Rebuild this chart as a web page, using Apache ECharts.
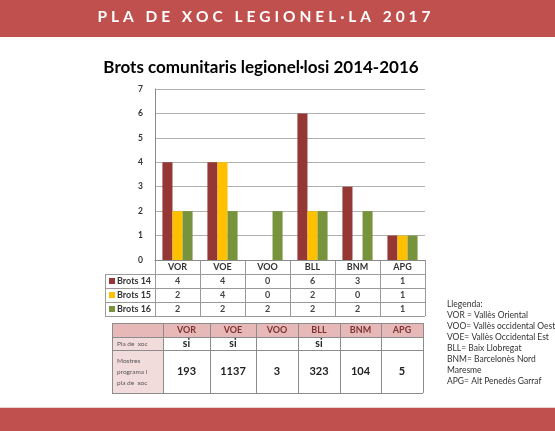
<!DOCTYPE html>
<html>
<head>
<meta charset="utf-8">
<script src="https://cdn.jsdelivr.net/npm/echarts@6/dist/echarts.min.js"></script>
<style>
html, body { margin: 0; padding: 0; background: #fff; }
#main { width: 555px; height: 431px; }
</style>
</head>
<body>
<div id="main"></div>
<script>
// dades del gràfic
var categories = ['VOR', 'VOE', 'VOO', 'BLL', 'BNM', 'APG'];
var seriesNames = ['Brots 14', 'Brots 15', 'Brots 16'];
var brots14 = [4, 4, 0, 6, 3, 1];
var brots15 = [2, 4, 0, 2, 0, 1];
var brots16 = [2, 2, 2, 2, 2, 1];
var seriesColors = ['#953735', '#ffc000', '#77933c'];

// taula del pla de xoc
var planCols = ['VOR', 'VOE', 'VOO', 'BLL', 'BNM', 'APG'];
var planRow = ['si', 'si', '', 'si', '', ''];
var mostres = [193, 1137, 3, 323, 104, 5];

var bannerTitle = 'PLA DE XOC LEGIONEL\u00b7LA 2017';
var chartTitle = 'Brots comunitaris legionel\u00b7losi 2014-2016';
var legendLines = [
    'Llegenda:',
    'VOR = Vall\u00e8s Oriental',
    'VOO= Vall\u00e8s occidental Oest',
    'VOE= Vall\u00e8s Occidental Est',
    'BLL= Baix Llobregat',
    'BNM= Barcelon\u00e8s Nord',
    'Maresme',
    'APG= Alt Pened\u00e8s Garraf'
];

var FONT = 'Lato, "Open Sans", sans-serif';
var ROW_H = 14;
var allValues = [brots14, brots15, brots16];

var chart = echarts.init(document.getElementById('main'));

chart.setOption({
    backgroundColor: '#fff',
    animation: false,
    grid: { left: 155, right: 130, top: 89, bottom: 171 },
    xAxis: {
        type: 'category',
        data: categories,
        axisLine: { lineStyle: { color: '#8a8a8a' } },
        axisTick: { show: false },
        axisLabel: {
            margin: 0,
            interval: 0,
            lineHeight: ROW_H,
            formatter: function(value, idx) {
                var s = '{c|' + value + '}';
                for (var k = 0; k < allValues.length; k++) {
                    s += '\n{v|' + allValues[k][idx] + '}';
                }
                return s;
            },
            rich: {
                c: { fontFamily: FONT, fontSize: 9, fontWeight: 'bold', color: '#333', lineHeight: ROW_H },
                v: { fontFamily: FONT, fontSize: 9, fontWeight: 'bold', color: '#444', lineHeight: ROW_H }
            }
        }
    },
    yAxis: {
        type: 'value',
        min: 0,
        max: 7,
        interval: 1,
        axisLine: { show: true, lineStyle: { color: '#8a8a8a' } },
        axisTick: { show: false },
        axisLabel: { margin: 12, fontFamily: FONT, fontSize: 8.5, fontWeight: 'bold', color: '#333' },
        splitLine: { lineStyle: { color: '#b0b0b0' } }
    },
    series: [
        { name: seriesNames[0], type: 'bar', data: brots14, barGap: '0%', barCategoryGap: '33%', itemStyle: { color: seriesColors[0] } },
        { name: seriesNames[1], type: 'bar', data: brots15, itemStyle: { color: seriesColors[1] } },
        { name: seriesNames[2], type: 'bar', data: brots16, itemStyle: { color: seriesColors[2] } }
    ]
});

// text amb espaiat entre lletres
function spacedText(str, cx, cy, size, totalW, color) {
    var ctx = document.createElement('canvas').getContext('2d');
    ctx.font = 'bold ' + size + 'px ' + FONT;
    var chars = str.split('');
    var widths = chars.map(function(ch) { return ctx.measureText(ch).width; });
    var sum = widths.reduce(function(a, b) { return a + b; }, 0);
    var gap = (totalW - sum) / (chars.length - 1);
    var x = cx - totalW / 2;
    var out = [];
    for (var i = 0; i < chars.length; i++) {
        out.push({
            type: 'text', x: x, y: cy, silent: true,
            style: { text: chars[i], fontFamily: FONT, fontSize: size, fontWeight: 'bold', fill: color, textVerticalAlign: 'middle' }
        });
        x += widths[i] + gap;
    }
    return out;
}

function line(x1, y1, x2, y2, color) {
    return { type: 'line', silent: true, shape: { x1: x1, y1: y1, x2: x2, y2: y2 }, style: { stroke: color || '#9a9a9a', lineWidth: 1 } };
}

function label(text, x, y, size, weight, color, align) {
    return {
        type: 'text', x: x, y: y, silent: true,
        style: { text: text, fontFamily: FONT, fontSize: size, fontWeight: weight, fill: color, textAlign: align || 'center', textVerticalAlign: 'middle' }
    };
}

var g = [];

// bandes vermelles
g.push({ type: 'rect', silent: true, shape: { x: 0, y: 0, width: 555, height: 37 }, style: { fill: '#c0504d' } });
g.push({ type: 'rect', silent: true, shape: { x: 0, y: 408, width: 555, height: 23 }, style: { fill: '#c0504d' } });
g.push(line(0, 407.5, 555, 407.5, '#ead3d2'));
g = g.concat(spacedText(bannerTitle, 264, 17, 15.5, 333, '#ffffff'));

// títol
g.push(label(chartTitle, 261, 68, 17, 'bold', '#000'));

// taula de dades sota el gràfic
var p0 = chart.convertToPixel({ gridIndex: 0 }, [0, 0]);
var p1 = chart.convertToPixel({ gridIndex: 0 }, [1, 0]);
var step = p1[0] - p0[0];
var axisY = p0[1];
var leftX = p0[0] - step / 2;
var tableLeft = leftX - 50;
var bottomY = axisY + ROW_H * (allValues.length + 1);
for (var r = 1; r <= allValues.length + 1; r++) {
    var yy = Math.round(axisY + r * ROW_H) + 0.5;
    g.push(line(tableLeft, yy, leftX + step * categories.length, yy));
}
for (var c = 0; c <= categories.length; c++) {
    var xx = Math.round(leftX + c * step) + 0.5;
    g.push(line(xx, axisY, xx, bottomY));
}
g.push(line(Math.round(tableLeft) + 0.5, axisY + ROW_H, Math.round(tableLeft) + 0.5, bottomY));
for (var k = 0; k < seriesNames.length; k++) {
    var cy = axisY + ROW_H * (k + 1) + ROW_H / 2;
    g.push({ type: 'rect', silent: true, shape: { x: tableLeft + 4, y: cy - 3, width: 6, height: 6 }, style: { fill: seriesColors[k] } });
    g.push(label(seriesNames[k], tableLeft + 12, cy, 9, 'bold', '#333', 'left'));
}

// taula del pla de xoc
var colX = [112, 163, 210, 256, 298, 340, 381, 423];
var rowY = [323, 337, 350, 393];
g.push({ type: 'rect', silent: true, shape: { x: colX[0], y: rowY[0], width: colX[7] - colX[0], height: rowY[1] - rowY[0] }, style: { fill: '#e6b9b8' } });
g.push({ type: 'rect', silent: true, shape: { x: colX[0], y: rowY[1], width: colX[1] - colX[0], height: rowY[3] - rowY[1] }, style: { fill: '#f2dcdb' } });
for (var i = 0; i < rowY.length; i++) {
    g.push(line(colX[0], rowY[i] + 0.5, colX[7], rowY[i] + 0.5, '#8c8c8c'));
}
for (var j = 0; j < colX.length; j++) {
    g.push(line(colX[j] + 0.5, rowY[0], colX[j] + 0.5, rowY[3], '#8c8c8c'));
}
for (var j = 0; j < planCols.length; j++) {
    var mx = (colX[j + 1] + colX[j + 2]) / 2;
    g.push(label(planCols[j], mx, (rowY[0] + rowY[1]) / 2, 9, 'bold', '#7f3331'));
    g.push(label(planRow[j], mx, (rowY[1] + rowY[2]) / 2, 10.5, 'bold', '#222'));
    g.push(label(String(mostres[j]), mx, (rowY[2] + rowY[3]) / 2, 11, 'bold', '#222'));
}
g.push(label('Pla de  xoc', colX[0] + 5, (rowY[1] + rowY[2]) / 2, 6.5, 'normal', '#555', 'left'));
g.push({
    type: 'text', x: colX[0] + 5, y: (rowY[2] + rowY[3]) / 2, silent: true,
    style: { text: 'Mostres\nprograma i\npla de  xoc', fontFamily: FONT, fontSize: 6.5, lineHeight: 11, fill: '#555', textAlign: 'left', textVerticalAlign: 'middle' }
});

// llegenda de sigles
for (var l = 0; l < legendLines.length; l++) {
    g.push(label(legendLines[l], 447, 304 + l * 11.1, 8.5, 'normal', '#333', 'left'));
}

chart.setOption({ graphic: { elements: g } });
</script>
</body>
</html>
